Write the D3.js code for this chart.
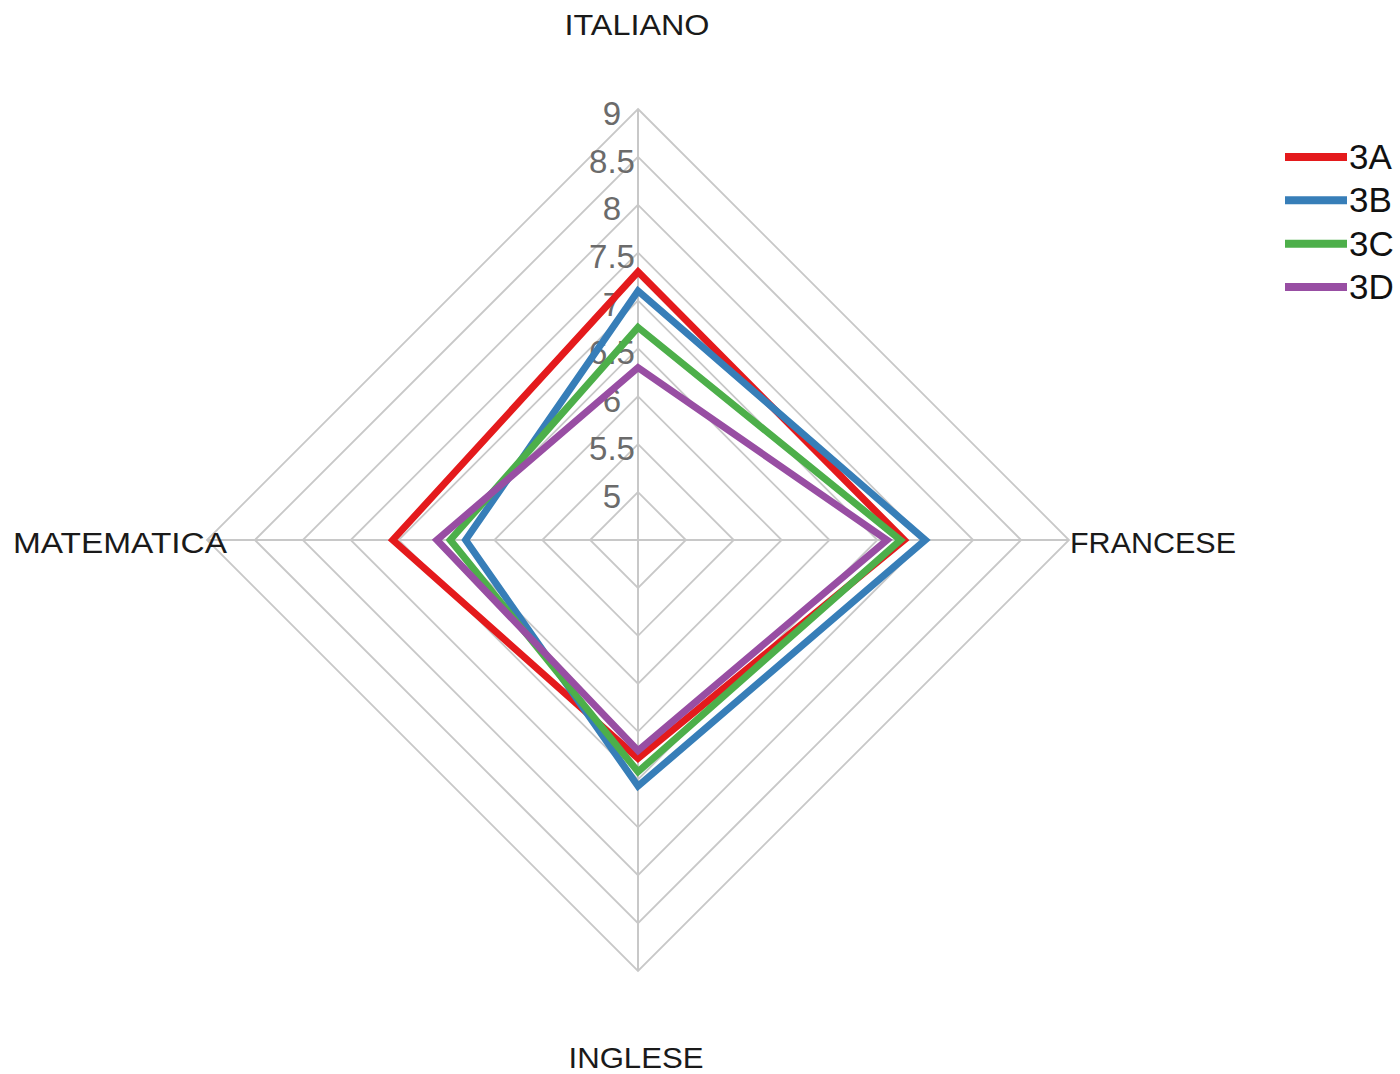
<!DOCTYPE html>
<html>
<head>
<meta charset="utf-8">
<script src="https://cdn.jsdelivr.net/npm/d3@7"></script>
<style>
  html, body { margin: 0; padding: 0; background: #fff; }
  svg { display: block; }
</style>
</head>
<body>
<svg id="chart" width="1400" height="1074"></svg>
<script>
// ---- data ----
const categories = ["ITALIANO", "FRANCESE", "INGLESE", "MATEMATICA"];
const seriesNames = ["3A", "3B", "3C", "3D"];
const values3A = [7.3, 7.28, 6.78, 7.06];
const values3B = [7.1, 7.5, 7.07, 6.3];
const values3C = [6.72, 7.24, 6.92, 6.46];
const values3D = [6.3, 7.1, 6.7, 6.6];
const tickValues = [5, 5.5, 6, 6.5, 7, 7.5, 8, 8.5, 9];
const tickLabels = ["5", "5.5", "6", "6.5", "7", "7.5", "8", "8.5", "9"];
const seriesColors = ["#e41a1c", "#377eb8", "#4daf4a", "#984ea3"];

const seriesData = [values3A, values3B, values3C, values3D];

// ---- layout ----
const cx = 638, cy = 540, R = 431;
const svg = d3.select("#chart");
const r = d3.scaleLinear().domain([4.5, 9]).range([0, R]);
const angle = d3.scalePoint().domain(categories).range([0, 2 * Math.PI * 3 / 4]);
// angle 0 = top, clockwise
function pt(cat, v) {
  const a = angle(cat);
  return [cx + r(v) * Math.sin(a), cy - r(v) * Math.cos(a)];
}

const g = svg.append("g");

// grid rings
tickValues.forEach(t => {
  const pts = categories.map(c => pt(c, t));
  g.append("path")
    .attr("d", d3.line()(pts) + "Z")
    .attr("fill", "none")
    .attr("stroke", "#c8c8c8")
    .attr("stroke-width", 1.8);
});
// spokes
categories.forEach(c => {
  const p = pt(c, 9);
  g.append("line")
    .attr("x1", cx).attr("y1", cy)
    .attr("x2", p[0]).attr("y2", p[1])
    .attr("stroke", "#c8c8c8")
    .attr("stroke-width", 2);
});

// tick labels
tickValues.forEach((t, i) => {
  g.append("text")
    .attr("x", cx - 26)
    .attr("y", cy - r(t) + 7)
    .attr("text-anchor", "middle")
    .attr("dominant-baseline", "middle")
    .attr("font-family", "Liberation Sans, Arial, sans-serif")
    .attr("font-size", 33)
    .attr("fill", "#6b6b6b")
    .text(tickLabels[i]);
});

// category labels
const catPos = {
  "ITALIANO": {x: 637, y: 25, w: 145},
  "FRANCESE": {x: 1153, y: 543, w: 166},
  "INGLESE": {x: 636, y: 1058, w: 135},
  "MATEMATICA": {x: 120, y: 543, w: 214}
};
categories.forEach(c => {
  const p = catPos[c];
  g.append("text")
    .attr("x", p.x)
    .attr("y", p.y)
    .attr("text-anchor", "middle")
    .attr("dominant-baseline", "central")
    .attr("font-family", "Liberation Sans, Arial, sans-serif")
    .attr("font-size", 29)
    .attr("fill", "#1a1a1a")
    .attr("textLength", p.w)
    .attr("lengthAdjust", "spacingAndGlyphs")
    .text(c);
});

// series
const line = d3.line();
seriesData.forEach((vals, i) => {
  const pts = categories.map((c, j) => pt(c, vals[j]));
  g.append("path")
    .attr("d", line(pts) + "Z")
    .attr("fill", "none")
    .attr("stroke", seriesColors[i])
    .attr("stroke-width", 7)
    .attr("stroke-linejoin", "miter");
});

// legend
const legY = d3.scalePoint().domain(seriesNames).range([157, 287]);
seriesNames.forEach((s, i) => {
  const y = legY(s);
  svg.append("line")
    .attr("x1", 1285).attr("x2", 1347)
    .attr("y1", y).attr("y2", y)
    .attr("stroke", seriesColors[i])
    .attr("stroke-width", 8);
  svg.append("text")
    .attr("x", 1349)
    .attr("y", y + 12)
    .attr("font-family", "Liberation Sans, Arial, sans-serif")
    .attr("font-size", 35)
    .attr("fill", "#111")
    .text(s);
});
</script>
</body>
</html>
